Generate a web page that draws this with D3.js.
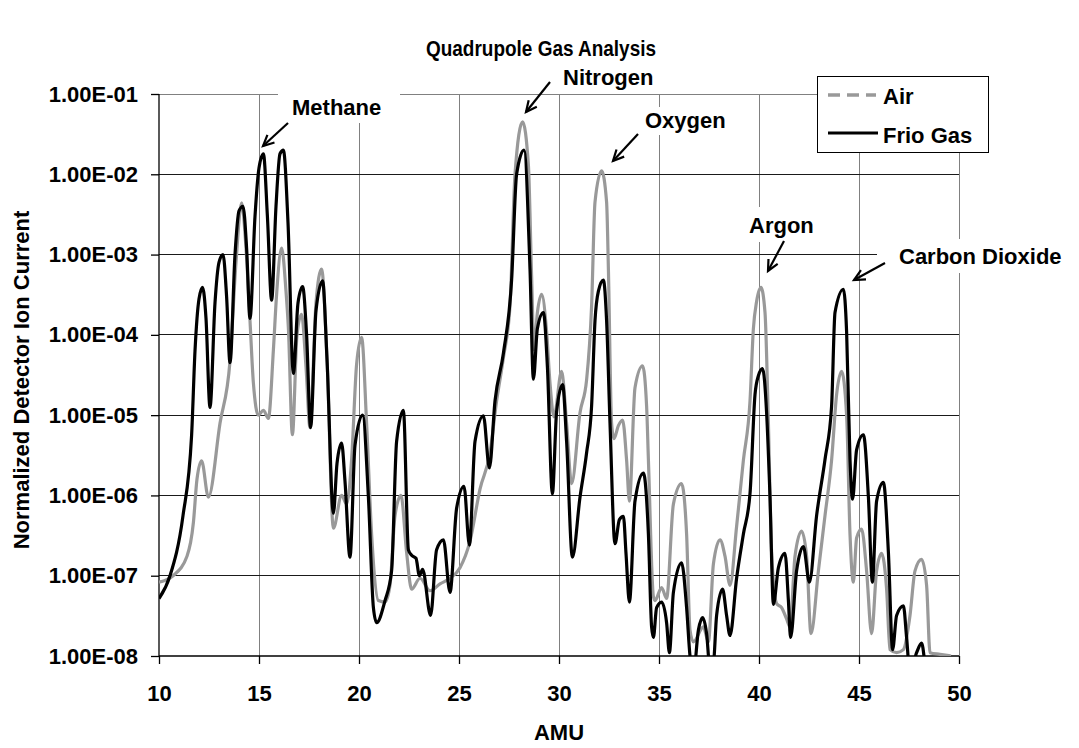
<!DOCTYPE html>
<html>
<head>
<meta charset="utf-8">
<script src="https://cdn.jsdelivr.net/npm/d3@7"></script>
<style>
  html, body { margin: 0; padding: 0; background: #fff; }
  svg text { font-family: "Liberation Sans", Arial, sans-serif; font-weight: bold; fill: #000; }
</style>
</head>
<body>
<svg id="chart" width="1079" height="748"></svg>
<script>
// ---------------- data ----------------
const titleText = "Quadrupole Gas Analysis";
const xTitle = "AMU";
const yTitle = "Normalized Detector Ion Current";
const seriesNames = ["Air", "Frio Gas"];

const xTicks = [10, 15, 20, 25, 30, 35, 40, 45, 50];
const yTicks = [1e-8, 1e-7, 1e-6, 1e-5, 1e-4, 1e-3, 1e-2, 1e-1];
const yTickLabels = ["1.00E-08", "1.00E-07", "1.00E-06", "1.00E-05", "1.00E-04", "1.00E-03", "1.00E-02", "1.00E-01"];

// Air (grey) : AMU positions and normalized ion current
const airAmu = [10.0, 10.7, 11.4, 11.72, 11.9, 12.13, 12.47, 13.05, 13.55, 13.85, 14.13, 14.35, 14.55, 14.72, 14.97, 15.22, 15.47, 15.72, 15.88, 16.13, 16.35, 16.47, 16.67, 16.9, 17.13, 17.35, 17.55, 17.85, 18.13, 18.4, 18.72, 19.13, 19.38, 19.63, 19.88, 20.13, 20.38, 20.63, 20.97, 21.3, 21.55, 21.8, 22.1, 22.38, 22.63, 23.05, 23.55, 24.05, 24.55, 25.05, 25.55, 26.05, 26.55, 26.88, 27.22, 27.55, 27.8, 28.18, 28.47, 28.63, 28.75, 28.92, 29.13, 29.38, 29.55, 29.75, 30.13, 30.38, 30.63, 31.05, 31.38, 31.63, 31.8, 32.13, 32.38, 32.47, 32.63, 32.75, 32.97, 33.18, 33.38, 33.52, 33.8, 34.18, 34.38, 34.47, 34.72, 34.8, 35.13, 35.38, 35.72, 36.13, 36.38, 36.55, 36.72, 37.22, 37.47, 37.72, 38.05, 38.3, 38.55, 38.88, 39.22, 39.55, 39.72, 39.88, 40.1, 40.3, 40.47, 40.63, 40.88, 41.13, 41.38, 41.55, 41.8, 42.13, 42.38, 42.6, 42.97, 43.3, 43.63, 43.88, 44.13, 44.38, 44.55, 44.72, 44.88, 45.13, 45.38, 45.63, 45.88, 46.13, 46.38, 46.55, 46.88, 47.22, 47.55, 47.8, 48.13, 48.38, 48.55, 49.05, 49.6];
const airValues = [8.3e-8, 1.0e-7, 1.75e-7, 4.6e-7, 1.6e-6, 2.7e-6, 9.5e-7, 7.9e-6, 4.7e-5, 8e-4, 4.4e-3, 1.2e-3, 1.5e-4, 2.5e-5, 1.0e-5, 1.15e-5, 9.1e-6, 6.5e-5, 3.2e-4, 1.2e-3, 3.5e-4, 1.2e-4, 5.7e-6, 1.0e-4, 1.8e-4, 4e-5, 7.0e-6, 2.5e-4, 6.6e-4, 5e-5, 3.9e-7, 1.0e-6, 7.8e-7, 2.8e-6, 4.3e-5, 9.3e-5, 7.9e-6, 3.3e-7, 4.9e-8, 4.7e-8, 7.6e-8, 5.6e-7, 1.0e-6, 1.95e-7, 6.8e-8, 9.3e-8, 6.5e-8, 7.9e-8, 9.3e-8, 1.26e-7, 2.7e-7, 1.2e-6, 3.4e-6, 1.5e-5, 5.2e-5, 2.3e-4, 1.0e-2, 4.5e-2, 1.3e-2, 5.4e-4, 6.5e-5, 1.9e-4, 3.2e-4, 1.1e-4, 2.5e-5, 9.5e-6, 3.5e-5, 7.9e-6, 1.4e-6, 1.07e-5, 2.75e-5, 2.3e-4, 4.5e-3, 1.1e-2, 4.5e-3, 6.6e-4, 7.9e-6, 5.1e-6, 7.4e-6, 8.7e-6, 2.75e-6, 8.5e-7, 2.2e-5, 4.1e-5, 1.3e-5, 2.8e-6, 5.5e-8, 4.9e-8, 7.1e-8, 5.2e-8, 7.8e-7, 1.4e-6, 3.3e-7, 2.1e-8, 1.5e-8, 2.3e-8, 1.5e-8, 1.4e-7, 2.8e-7, 1.75e-7, 7.6e-8, 4.1e-7, 2.75e-6, 1.5e-5, 1.2e-4, 2.6e-4, 3.9e-4, 1.9e-4, 7.9e-6, 1.95e-7, 4.5e-8, 4.0e-8, 2.9e-8, 2.3e-8, 1.75e-7, 3.6e-7, 1.75e-7, 1.9e-8, 1.15e-7, 5.6e-7, 2.75e-6, 1.8e-5, 3.5e-5, 1.0e-5, 3.3e-7, 8.3e-8, 2.95e-7, 3.8e-7, 1.15e-7, 1.9e-8, 1.15e-7, 1.9e-7, 6.8e-8, 1.2e-8, 1.1e-8, 1.2e-8, 3.2e-8, 1.15e-7, 1.6e-7, 7.6e-8, 1.1e-8, 1.05e-8, 1.0e-8];

// Frio Gas (black)
const frioAmu = [10.0, 10.55, 11.2, 11.63, 11.8, 12.0, 12.18, 12.35, 12.55, 12.8, 13.0, 13.2, 13.38, 13.55, 13.8, 14.0, 14.2, 14.38, 14.55, 14.8, 15.0, 15.22, 15.42, 15.63, 15.85, 16.05, 16.22, 16.45, 16.72, 16.95, 17.18, 17.38, 17.58, 17.85, 18.18, 18.4, 18.72, 18.9, 19.13, 19.3, 19.55, 19.8, 20.18, 20.47, 20.72, 20.88, 21.3, 21.63, 21.88, 22.22, 22.47, 22.63, 22.85, 23.02, 23.18, 23.58, 23.88, 24.22, 24.55, 24.88, 25.25, 25.52, 25.8, 26.22, 26.52, 26.8, 27.22, 27.63, 27.88, 28.25, 28.55, 28.72, 28.92, 29.22, 29.42, 29.67, 29.88, 30.18, 30.38, 30.67, 31.05, 31.38, 31.63, 31.8, 31.97, 32.22, 32.38, 32.55, 32.8, 33.02, 33.22, 33.35, 33.52, 33.8, 34.22, 34.47, 34.63, 34.72, 34.88, 35.13, 35.38, 35.52, 35.72, 36.13, 36.38, 36.55, 36.72, 36.97, 37.18, 37.38, 37.55, 37.72, 37.88, 38.18, 38.38, 38.55, 38.88, 39.22, 39.55, 39.8, 39.97, 40.18, 40.38, 40.55, 40.72, 40.97, 41.3, 41.47, 41.58, 41.88, 42.22, 42.52, 42.88, 43.3, 43.63, 43.8, 44.22, 44.38, 44.55, 44.68, 44.88, 45.22, 45.47, 45.67, 45.88, 46.22, 46.47, 46.68, 46.88, 47.22, 47.38, 47.55, 47.88, 48.13, 48.38, 49.0, 49.9, 50.0];
const frioValues = [5.2e-8, 1.0e-7, 5.6e-7, 5.6e-6, 6.3e-5, 2.8e-4, 3.9e-4, 1.6e-4, 1.25e-5, 2.5e-4, 8.0e-4, 1.0e-3, 3.0e-4, 4.5e-5, 1.0e-3, 3.5e-3, 4.0e-3, 1.2e-3, 1.6e-4, 3.0e-3, 1.2e-2, 1.8e-2, 3.0e-3, 2.7e-4, 4.0e-3, 1.8e-2, 2.0e-2, 2.5e-3, 3.3e-5, 2.5e-4, 4.0e-4, 1.0e-4, 7.0e-6, 2.0e-4, 4.7e-4, 5.0e-5, 6e-7, 2.5e-6, 4.5e-6, 1.5e-6, 1.7e-7, 4.2e-6, 1.0e-5, 9.5e-7, 4.0e-8, 2.6e-8, 4.9e-8, 1.15e-7, 4.7e-6, 1.15e-5, 2.1e-7, 1.8e-7, 1.65e-7, 1.0e-7, 1.2e-7, 3.2e-8, 2.1e-7, 2.8e-7, 6.2e-8, 6.9e-7, 1.3e-6, 2.4e-7, 4.7e-6, 9.8e-6, 2.2e-6, 1.5e-5, 5.9e-5, 4.8e-4, 1.0e-2, 2.0e-2, 6.6e-4, 2.8e-5, 1.2e-4, 1.9e-4, 4e-5, 1.05e-6, 1.1e-5, 2.4e-5, 4.7e-6, 1.7e-7, 9.5e-7, 3.4e-6, 1.3e-5, 1.5e-4, 3.5e-4, 4.8e-4, 1.5e-4, 8e-6, 2.5e-7, 5.0e-7, 5.5e-7, 1.9e-7, 4.7e-8, 8.5e-7, 1.9e-6, 3.3e-7, 2.3e-8, 1.7e-8, 4.0e-8, 4.7e-8, 2.6e-8, 1.1e-8, 6.2e-8, 1.45e-7, 4.0e-8, 1.0e-8, 6e-9, 2.1e-8, 3.0e-8, 1.9e-8, 7e-9, 8e-9, 3.2e-8, 6.8e-8, 3.2e-8, 1.8e-8, 9.3e-8, 3.3e-7, 1.05e-6, 1.8e-5, 3.1e-5, 3.8e-5, 1.07e-5, 9.5e-7, 4.4e-8, 1.26e-7, 1.9e-7, 4.9e-8, 1.7e-8, 1.15e-7, 2.3e-7, 8.3e-8, 5.6e-7, 2.8e-6, 1.3e-5, 1.9e-4, 3.7e-4, 1.1e-4, 2.8e-6, 9e-7, 3.7e-6, 5.7e-6, 9.5e-7, 8.3e-8, 8.5e-7, 1.45e-6, 1.95e-7, 1.2e-8, 3.2e-8, 4.2e-8, 1.7e-8, 6e-9, 1.1e-8, 1.45e-8, 6e-9, 4e-9, 5e-9, 1.0e-8];

const annotationTexts = ["Methane", "Nitrogen", "Oxygen", "Argon", "Carbon Dioxide"];

// ---------------- layout ----------------
const svg = d3.select("#chart");
const L = 159, R = 959, T = 94, B = 656;
const x = d3.scaleLinear().domain([10, 50]).range([L, R]);
const y = d3.scaleLog().domain([1e-8, 1e-1]).range([B, T]);
const FS = 22;

svg.append("defs").append("clipPath").attr("id", "plotclip")
  .append("rect").attr("x", L).attr("y", 0).attr("width", R - L + 2).attr("height", B);

// gridlines
const grid = svg.append("g");
grid.selectAll("line.v").data(xTicks.slice(1)).join("line")
  .attr("x1", d => x(d)).attr("x2", d => x(d)).attr("y1", T).attr("y2", B)
  .attr("stroke", "#808080").attr("stroke-width", 1).attr("shape-rendering", "crispEdges");
grid.selectAll("line.h").data(yTicks.slice(1)).join("line")
  .attr("x1", L).attr("x2", R).attr("y1", d => y(d)).attr("y2", d => y(d))
  .attr("stroke", d => d === 1e-1 ? "#808080" : "#1a1a1a").attr("stroke-width", 1).attr("shape-rendering", "crispEdges");

// white boxes behind annotation labels (cover gridlines)
const boxes = [
  [278, 80, 122, 43],
  [642, 107, 92, 28],
  [740, 207, 86, 35],
  [877, 239, 202, 34]
];
svg.append("g").selectAll("rect").data(boxes).join("rect")
  .attr("x", d => d[0]).attr("y", d => d[1]).attr("width", d => d[2]).attr("height", d => d[3])
  .attr("fill", "#fff");

// axes
const yAxis = d3.axisLeft(y).tickValues(yTicks).tickSize(8).tickPadding(13)
  .tickFormat((d, i) => yTickLabels[i]);
const gy = svg.append("g").attr("transform", `translate(${L},0)`).call(yAxis);
const xAxis = d3.axisBottom(x).tickValues(xTicks).tickSize(8).tickPadding(21).tickFormat(d3.format("d"));
const gx = svg.append("g").attr("transform", `translate(0,${B})`).call(xAxis);
[gx, gy].forEach(g => {
  g.select(".domain").attr("stroke", "#000").attr("stroke-width", 1.3);
  g.selectAll(".tick line").attr("stroke", "#000").attr("stroke-width", 1.3);
  g.selectAll("text").attr("font-size", FS).attr("font-family", "Liberation Sans, Arial, sans-serif").attr("font-weight", "bold").attr("fill", "#000");
});
gy.select(".domain").attr("d", `M0,${B}V${T}`);
gx.select(".domain").attr("d", `M${L},0H${R}`);

// lines
const airData = airAmu.map((a, i) => [a, airValues[i]]);
const frioData = frioAmu.map((a, i) => [a, frioValues[i]]);
const line = d3.line().x(d => x(d[0])).y(d => y(d[1])).curve(d3.curveMonotoneX);
const plot = svg.append("g").attr("clip-path", "url(#plotclip)");
plot.append("path").datum(airData).attr("d", line)
  .attr("fill", "none").attr("stroke", "#999999").attr("stroke-width", 3.2).attr("stroke-linejoin", "round");
plot.append("path").datum(frioData).attr("d", line)
  .attr("fill", "none").attr("stroke", "#000").attr("stroke-width", 3.2).attr("stroke-linejoin", "round");

// annotations
const annPos = [[292, 115], [563, 85], [645, 128], [749, 233], [899, 264]];
const arrows = [
  [[288, 123], [263, 146]],
  [[550, 82], [526, 112]],
  [[638, 134], [613, 161]],
  [[784, 241], [768, 271]],
  [[885, 263], [854, 280]]
];
const ann = svg.append("g");
ann.selectAll("text").data(annotationTexts).join("text")
  .attr("x", (d, i) => annPos[i][0]).attr("y", (d, i) => annPos[i][1])
  .attr("font-size", FS).text(d => d);
arrows.forEach(([p0, p1]) => {
  const ang = Math.atan2(p1[1] - p0[1], p1[0] - p0[0]);
  const hl = 12, ha = 0.45;
  const a1 = [p1[0] - hl * Math.cos(ang - ha), p1[1] - hl * Math.sin(ang - ha)];
  const a2 = [p1[0] - hl * Math.cos(ang + ha), p1[1] - hl * Math.sin(ang + ha)];
  ann.append("path").attr("d", `M${p0[0]},${p0[1]}L${p1[0]},${p1[1]}`)
    .attr("stroke", "#000").attr("stroke-width", 2.2).attr("fill", "none");
  ann.append("path").attr("d", `M${a1[0]},${a1[1]}L${p1[0]},${p1[1]}L${a2[0]},${a2[1]}`)
    .attr("stroke", "#000").attr("stroke-width", 2.2).attr("fill", "none");
});

// legend
const lg = svg.append("g");
lg.append("rect").attr("x", 817.5).attr("y", 76.5).attr("width", 171).attr("height", 76)
  .attr("fill", "#fff").attr("stroke", "#000").attr("stroke-width", 1);
lg.append("line").attr("x1", 828).attr("x2", 876).attr("y1", 95).attr("y2", 95)
  .attr("stroke", "#999999").attr("stroke-width", 3.5).attr("stroke-dasharray", "12,7");
lg.append("line").attr("x1", 828).attr("x2", 878).attr("y1", 133).attr("y2", 133)
  .attr("stroke", "#000").attr("stroke-width", 3);
lg.selectAll("text").data(seriesNames).join("text")
  .attr("x", 883).attr("y", (d, i) => i === 0 ? 104 : 143)
  .attr("font-size", FS).text(d => d);

// titles
svg.append("text").attr("x", 541).attr("y", 56).attr("text-anchor", "middle")
  .attr("font-size", 22).attr("textLength", 230).attr("lengthAdjust", "spacingAndGlyphs")
  .text(titleText);
svg.append("text").attr("x", 559).attr("y", 740).attr("text-anchor", "middle")
  .attr("font-size", FS).text(xTitle);
svg.append("text").attr("transform", "translate(29,380) rotate(-90)").attr("text-anchor", "middle")
  .attr("font-size", FS).text(yTitle);
</script>
</body>
</html>
